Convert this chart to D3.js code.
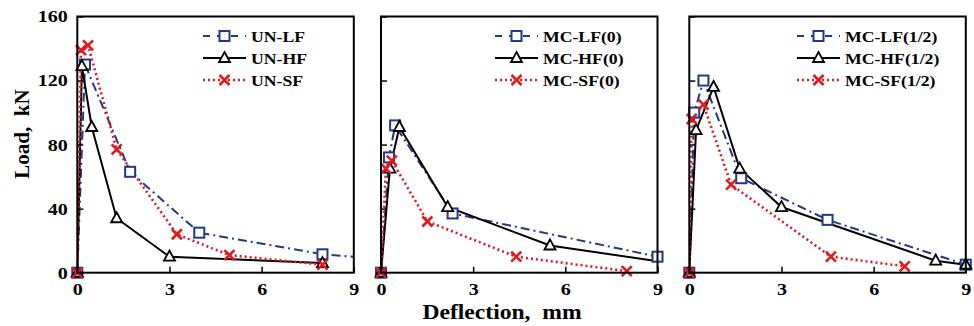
<!DOCTYPE html>
<html>
<head>
<meta charset="utf-8">
<script src="https://cdn.jsdelivr.net/npm/d3@7"></script>
<style>
  body { margin: 0; background: #fff; }
  svg text { font-family: "Liberation Serif", "Times New Roman", serif; font-weight: bold; }
</style>
</head>
<body>
<div id="chart"></div>
<script>
// Data: [deflection mm, load kN]
const unLF = [[0, 0], [0.25, 130], [1.72, 63], [3.97, 25], [7.98, 11.5], [10, 8.5]];
const unHF = [[0, 0], [0.15, 129], [0.47, 91], [1.28, 34], [3.0, 10], [7.98, 6]];
const unSF = [[0, 0], [0.12, 139], [0.35, 142], [1.28, 77], [3.24, 24], [4.95, 11], [7.98, 5]];

const mcLF0 = [[0, 0], [0.26, 72], [0.46, 92], [2.33, 37], [9.0, 10]];
const mcHF0 = [[0, 0], [0.29, 65], [0.6, 91], [2.17, 41], [5.5, 17], [9.3, 6.3]];
const mcSF0 = [[0, 0], [0.16, 65], [0.35, 70], [1.51, 32], [4.4, 10], [8.0, 1]];

const mcLF12 = [[0, 0], [0.16, 100], [0.46, 120], [1.69, 59], [4.5, 33], [9.0, 5]];
const mcHF12 = [[0, 0], [0.22, 89], [0.79, 116], [1.64, 65], [3.0, 41], [8.02, 7.5], [9.0, 5]];
const mcSF12 = [[0, 0], [0.08, 96], [0.46, 105], [1.36, 55], [4.61, 10], [7.01, 4]];

const legendLabels = [
    ["UN-LF", "UN-HF", "UN-SF"],
    ["MC-LF(0)", "MC-HF(0)", "MC-SF(0)"],
    ["MC-LF(1/2)", "MC-HF(1/2)", "MC-SF(1/2)"]
];
const panelSeries = [
    [unLF, unHF, unSF],
    [mcLF0, mcHF0, mcSF0],
    [mcLF12, mcHF12, mcSF12]
];
const xTicks = [0, 3, 6, 9];
const yTicks = [0, 40, 80, 120, 160];

// Styles per series type (LF, HF, SF)
const styles = [
    { color: "#1F3A8A", dash: "9,4,2,4", marker: "square" },
    { color: "#000000", dash: null, marker: "triangle" },
    { color: "#E3191F", dash: "2,3", marker: "cross" }
];

const panelLeft = [77.3, 381, 689.3];
const panelWidth = 276.5;
const plotTop = 16.5, plotBottom = 272.7;
const legendX = [203, 495, 797];
const legendRowY = [36, 58, 80];
const stretch = 1.18;

const svg = d3.select("#chart")
    .append("svg")
    .attr("width", 974)
    .attr("height", 326);

const y = d3.scaleLinear().domain([0, 160]).range([plotBottom, plotTop]);

function drawMarker(g, type, cx, cy, color) {
    if (type === "square") {
        g.append("rect")
            .attr("x", cx - 5).attr("y", cy - 5)
            .attr("width", 10).attr("height", 10)
            .attr("fill", "white").attr("stroke", color).attr("stroke-width", 2);
    } else if (type === "triangle") {
        g.append("path")
            .attr("d", `M${cx},${cy - 6}L${cx + 5.5},${cy + 4}L${cx - 5.5},${cy + 4}Z`)
            .attr("fill", "white").attr("stroke", color).attr("stroke-width", 1.8);
    } else {
        g.append("path")
            .attr("d", `M${cx - 5},${cy - 5}L${cx + 5},${cy + 5}M${cx - 5},${cy + 5}L${cx + 5},${cy - 5}`)
            .attr("stroke", color).attr("stroke-width", 2.6);
    }
}

panelSeries.forEach((series, p) => {
    const x = d3.scaleLinear().domain([0, 9]).range([panelLeft[p], panelLeft[p] + panelWidth]);

    // 1. Clip area
    svg.append("clipPath").attr("id", "clip" + p)
        .append("rect")
        .attr("x", panelLeft[p]).attr("y", plotTop)
        .attr("width", panelWidth).attr("height", plotBottom - plotTop);

    // 2. Axes with inward ticks
    const xAxis = svg.append("g")
        .attr("transform", `translate(0,${plotBottom})`)
        .call(d3.axisBottom(x).tickValues(xTicks).tickSizeInner(-6).tickSizeOuter(0).tickPadding(10));
    xAxis.select(".domain").remove();
    xAxis.selectAll("line").attr("stroke", "#000").attr("stroke-width", 1.5);
    xAxis.selectAll("text")
        .attr("font-size", 17).attr("fill", "#000")
        .attr("transform", `scale(${stretch},1)`);

    const yAxis = svg.append("g")
        .attr("transform", `translate(${panelLeft[p]},0)`)
        .call(d3.axisLeft(y).tickValues(yTicks).tickSizeInner(-6).tickSizeOuter(0).tickPadding(8)
            .tickFormat(p === 0 ? d3.format("d") : () => ""));
    yAxis.select(".domain").remove();
    yAxis.selectAll("line").attr("stroke", "#000").attr("stroke-width", 1.5);
    yAxis.selectAll("text")
        .attr("font-size", 17).attr("fill", "#000")
        .attr("transform", `scale(${stretch},1)`);

    // 3. Lines and markers
    const line = d3.line().x(d => x(d[0])).y(d => y(d[1]));
    series.forEach((data, s) => {
        const st = styles[s];
        svg.append("path")
            .datum(data)
            .attr("clip-path", `url(#clip${p})`)
            .attr("d", line)
            .attr("fill", "none")
            .attr("stroke", st.color)
            .attr("stroke-width", s === 2 ? 2.6 : 2)
            .attr("stroke-dasharray", st.dash);
    });
    series.forEach((data, s) => {
        const g = svg.append("g");
        data.filter(d => d[0] <= 9).forEach(d => drawMarker(g, styles[s].marker, x(d[0]), y(d[1]), styles[s].color));
    });

    // 4. Frame
    svg.append("rect")
        .attr("x", panelLeft[p]).attr("y", plotTop)
        .attr("width", panelWidth).attr("height", plotBottom - plotTop)
        .attr("fill", "none").attr("stroke", "#000").attr("stroke-width", 2);

    // 5. Legend
    legendLabels[p].forEach((label, s) => {
        const st = styles[s];
        const ly = legendRowY[s];
        const lx = legendX[p];
        svg.append("line")
            .attr("x1", lx).attr("x2", lx + 43)
            .attr("y1", ly).attr("y2", ly)
            .attr("stroke", st.color)
            .attr("stroke-width", s === 2 ? 2.6 : 2)
            .attr("stroke-dasharray", s === 0 ? "7,7" : st.dash);
        drawMarker(svg.append("g"), st.marker, lx + 21.5, ly, st.color);
        svg.append("text")
            .attr("transform", `translate(${lx + 48},${ly + 5.5}) scale(${stretch},1)`)
            .attr("font-size", 15)
            .attr("fill", "#000")
            .text(label);
    });
});

// 6. Axis titles
svg.append("text")
    .attr("transform", `translate(502,319) scale(${stretch},1)`)
    .attr("text-anchor", "middle")
    .attr("font-size", 20)
    .text("Deflection,\u00a0\u00a0mm");

svg.append("text")
    .attr("transform", "translate(29,134) rotate(-90)")
    .attr("text-anchor", "middle")
    .attr("font-size", 21)
    .text("Load,\u00a0\u00a0kN");
</script>
</body>
</html>
